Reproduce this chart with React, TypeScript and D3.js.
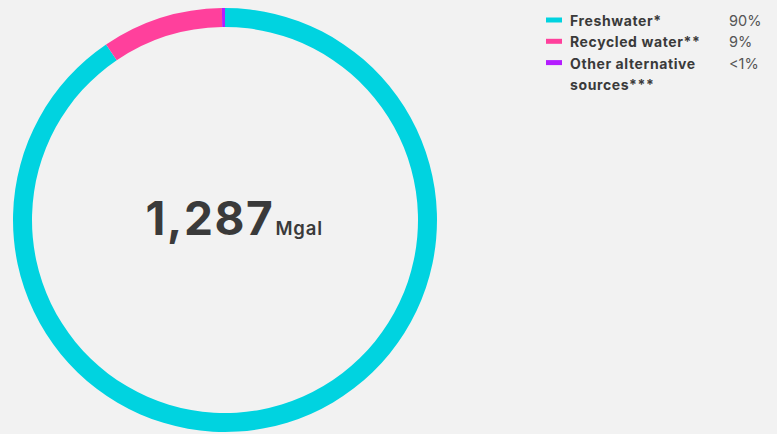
import React from "react";
import * as d3 from "d3";

const categories = ["Freshwater*", "Recycled water**", "Other alternative sources***"];
const legendLines = [["Freshwater*"], ["Recycled water**"], ["Other alternative", "sources***"]];
const values = [1165, 119, 3];
const percentLabels = ["90%", "9%", "<1%"];
const colors = ["#00d3e0", "#ff409c", "#b41dff"];
const totalLabel = "1,287";
const unitLabel = "Mgal";

const W = 777;
const H = 434;

export default function App() {
  const cx = 225;
  const cy = 220;
  const outerR = 212;
  const innerR = 193;
  const pie = d3.pie<number>().sort(null).value((d) => d)(values);
  const arc = d3.arc<d3.PieArcDatum<number>>().innerRadius(innerR).outerRadius(outerR);
  const font = "Inter, 'Noto Sans', sans-serif";

  let row = 0;
  const rowH = 21.3;
  const legendTop = 26;

  return (
    <svg width={W} height={H} style={{ position: "absolute", left: 0, top: 0 }} fontFamily={font}>
      <rect x={0} y={0} width={W} height={H} fill="#f2f2f2" />
      <g>
        {pie.map((p, i) => (
          <path key={i} transform={`translate(${cx},${cy})`} d={arc(p) || ""} fill={colors[i]} />
        ))}
        <text x={145.5} y={235} fill="#3a3a3a">
          <tspan fontSize={46} fontWeight={700} letterSpacing={1.6}>{totalLabel}</tspan>
          <tspan fontSize={18.5} fontWeight={600} letterSpacing={0.9} dx={1}>{unitLabel}</tspan>
        </text>
      </g>
      <g>
        {categories.map((c, i) => {
          const startRow = row;
          row += legendLines[i].length;
          const baseY = legendTop + startRow * rowH;
          return (
            <g key={c}>
              <rect x={546} y={baseY - 8.5} width={16} height={5} fill={colors[i]} />
              <text x={570} y={baseY} fontSize={14} fontWeight={700} fill="#3a3a3a" letterSpacing={0.6}>
                {legendLines[i].map((l, j) => (
                  <tspan key={j} x={570} dy={j === 0 ? 0 : rowH}>{l}</tspan>
                ))}
              </text>
              <text x={729} y={baseY} fontSize={14.5} fontWeight={400} fill="#555">
                {percentLabels[i]}
              </text>
            </g>
          );
        })}
      </g>
    </svg>
  );
}
